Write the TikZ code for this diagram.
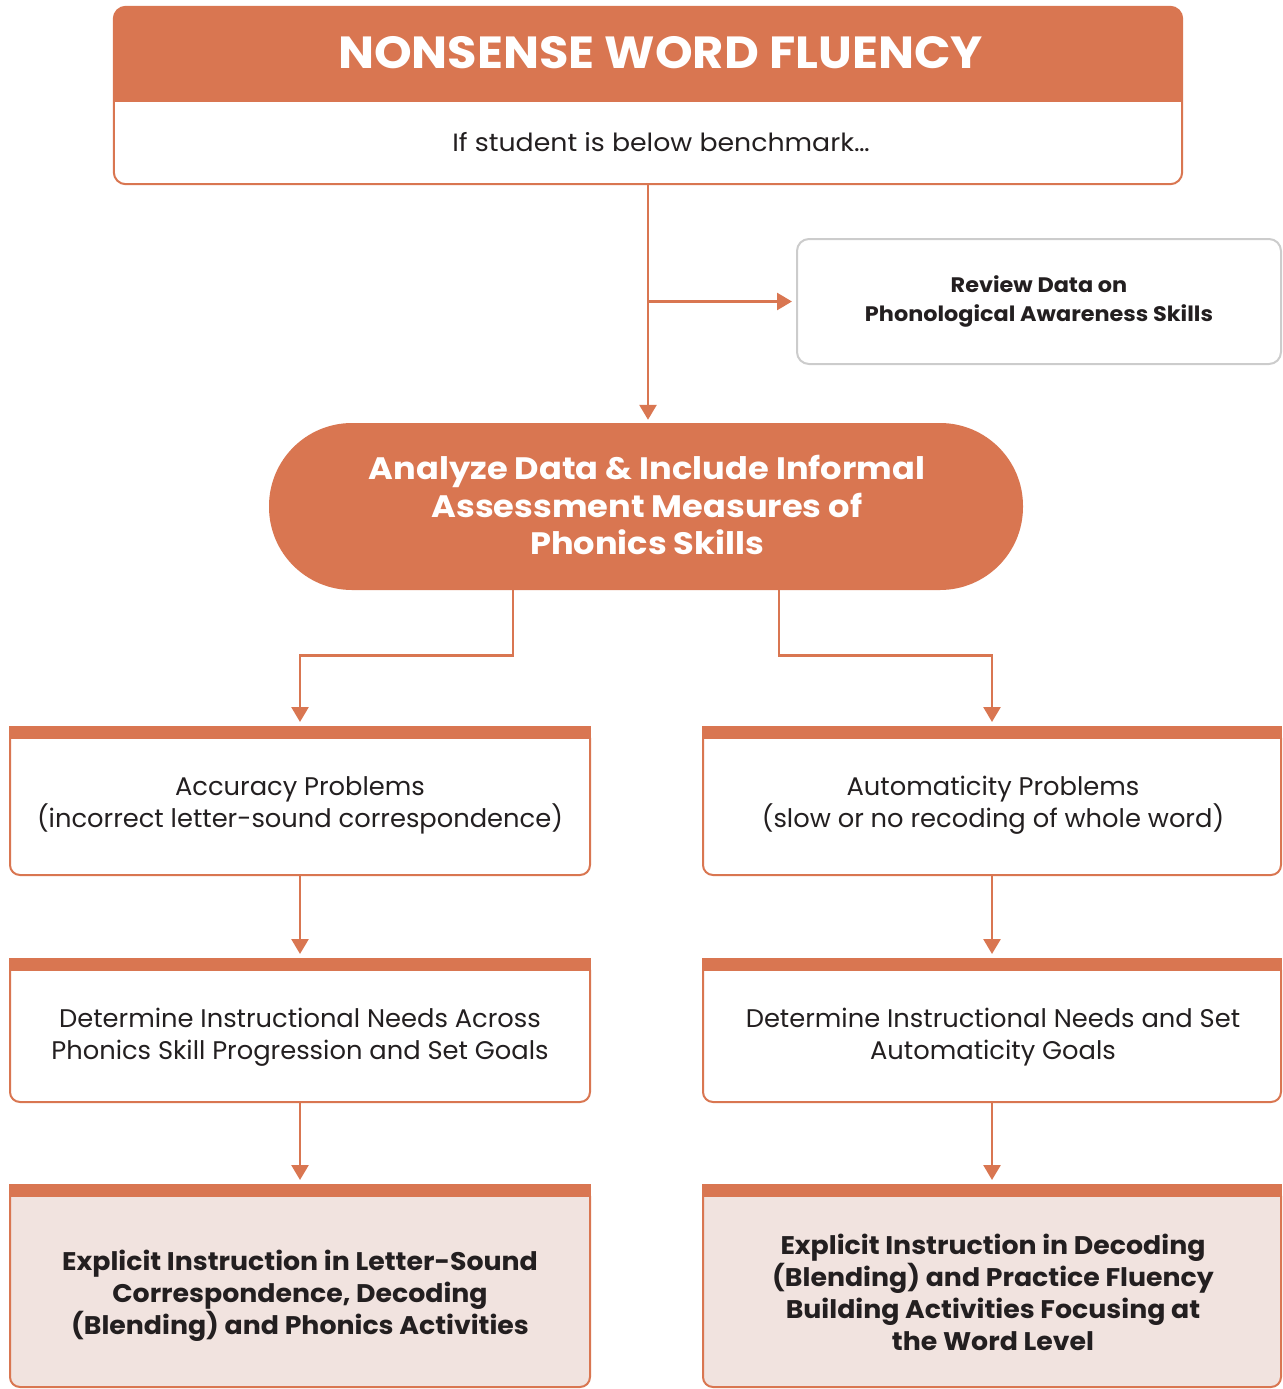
\documentclass[tikz,border=0pt]{standalone}
\usepackage{fontspec}
\setmainfont{Poppins}
\newfontfamily\titlefont[FakeStretch=1.065]{Poppins}
\newfontfamily\subfont[FakeStretch=1.07]{Poppins}
\newfontfamily\bodyfont[FakeStretch=1.01]{Poppins}
\newfontfamily\boldbodyfont[FakeStretch=1.05]{Poppins}
\newfontfamily\pillfont[FakeStretch=1.085]{Poppins}
\newfontfamily\reviewfont[FakeStretch=1.065]{Poppins}
\usetikzlibrary{arrows.meta}
\definecolor{brand}{HTML}{D97651}
\definecolor{blush}{HTML}{F1E3DF}
\definecolor{ink}{HTML}{231F20}
\definecolor{greyline}{HTML}{CCCCCC}
\begin{document}
\begin{tikzpicture}[x=1pt,y=-1pt,
  conn/.style={draw=brand, line width=2.7pt, -{Triangle[width=17pt,length=15pt]}},
  box/.style={draw=brand, line width=2pt, rounded corners=10pt, fill=white, inner sep=0pt},
  boldbox/.style={box, fill=blush},
  boxtext/.style={align=center, text=ink, inner sep=0pt, font=\bodyfont\fontsize{25.5}{32}\selectfont},
  boldtext/.style={align=center, text=ink, inner sep=0pt, font=\boldbodyfont\fontsize{25.5}{32}\selectfont\bfseries},
  bar/.style={fill=brand}
]
\useasboundingbox (0,0) rectangle (1282,1389);

% top box
\node[minimum width=1068pt, minimum height=177pt, inner sep=0pt] (top) at (648,95.5) {};
\fill[brand, rounded corners=12pt] (top.north west) rectangle ([yshift=-95pt]top.north east);
\fill[brand] ([yshift=-80pt]top.north west) rectangle ([yshift=-95pt]top.north east);
\draw[brand, line width=2pt, rounded corners=12pt] (top.north west) rectangle (top.south east);
\node[text=white, font=\titlefont\fontsize{45}{50}\selectfont\bfseries] (title) at (660.5,53) {NONSENSE WORD FLUENCY};
\node[text=ink, font=\subfont\fontsize{25}{30}\selectfont] (sub) at (661,142) {If student is below benchmark\ldots};

% review box
\node[draw=greyline, line width=2pt, rounded corners=12pt, minimum width=484pt, minimum height=125pt,
  inner sep=0pt, align=center, text=ink, font=\reviewfont\fontsize{21}{29}\selectfont\bfseries] (review) at (1039,301.5)
  {Review Data on\\Phonological Awareness Skills};

% pill
\node[fill=brand, rounded corners=83pt, minimum width=754pt, minimum height=167pt, inner sep=0pt] (pill) at (646,506.5) {};
\node[align=center, text=white, inner sep=0pt, font=\pillfont\fontsize{31}{37.5}\selectfont\bfseries] (pilltext) at (647,505)
  {Analyze Data \& Include Informal\\Assessment Measures of\\Phonics Skills};

% left column
\node[box, minimum width=580pt, minimum height=147pt] (acc) at (300,801.5) {};
\node[box, minimum width=580pt, minimum height=142pt] (detl) at (300,1031) {};
\node[boldbox, minimum width=580pt, minimum height=201pt] (expl) at (300,1286.5) {};

% right column
\node[box, minimum width=578pt, minimum height=147pt] (aut) at (992,801.5) {};
\node[box, minimum width=578pt, minimum height=142pt] (detr) at (992,1031) {};
\node[boldbox, minimum width=578pt, minimum height=201pt] (expr) at (992,1286.5) {};

% header bars
\foreach \b in {acc,detl,expl,aut,detr,expr}{
  \fill[bar] ([yshift=1pt]\b.north west) rectangle ([yshift=-12pt]\b.north east);
}

% texts
\node[boxtext] (acct) at (300,805.5) {Accuracy Problems\\(incorrect letter-sound correspondence)};
\node[boxtext] (detlt) at (300,1037) {Determine Instructional Needs Across\\Phonics Skill Progression and Set Goals};
\node[boldtext] (explt) at (300,1295.5) {Explicit Instruction in Letter-Sound\\Correspondence, Decoding\\(Blending) and Phonics Activities};
\node[boxtext] (autt) at (993,805.5) {Automaticity Problems\\(slow or no recoding of whole word)};
\node[boxtext] (detrt) at (993,1037) {Determine Instructional Needs and Set\\Automaticity Goals};
\node[boldtext] (exprt) at (993,1292.5) {Explicit Instruction in Decoding\\(Blending) and Practice Fluency\\Building Activities Focusing at\\the Word Level};

% connectors
\draw[conn, shorten >=3pt] (top.south) -- (top.south |- pill.north);
\coordinate (br) at (top.south |- review.west);
\draw[conn, shorten >=4pt] (br) -- (review.west);
\draw[conn, shorten >=5pt] ([xshift=-133pt]pill.south) -- ++(0,65) -| (acc.north);
\draw[conn, shorten >=5pt] ([xshift=133pt]pill.south) -- ++(0,65) -| (aut.north);
\draw[conn, shorten >=5pt] (acc.south) -- (detl.north);
\draw[conn, shorten >=5pt] (detl.south) -- (expl.north);
\draw[conn, shorten >=5pt] (aut.south) -- (detr.north);
\draw[conn, shorten >=5pt] (detr.south) -- (expr.north);
\end{tikzpicture}
\end{document}
